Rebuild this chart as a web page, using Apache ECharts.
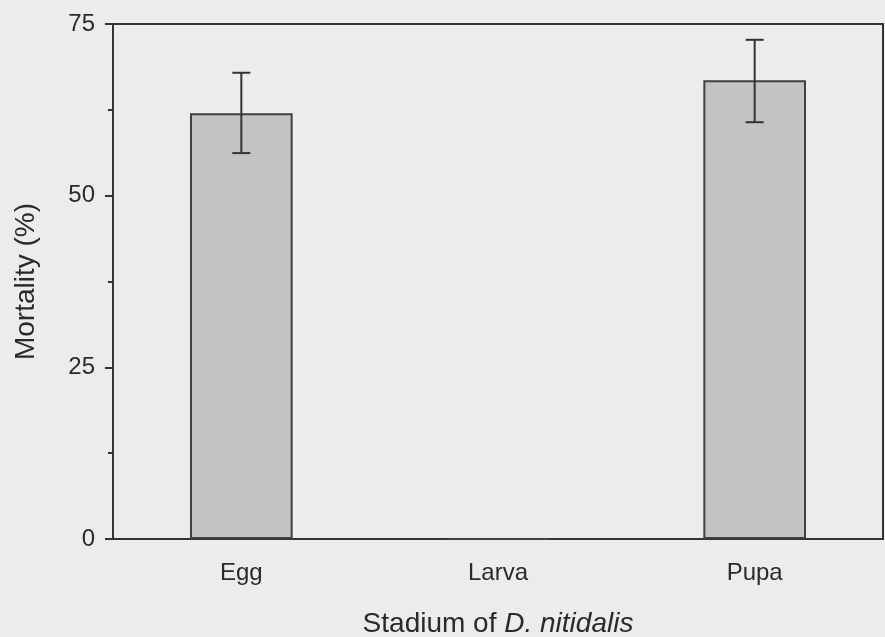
<!DOCTYPE html>
<html>
<head>
<meta charset="utf-8">
<script src="https://cdn.jsdelivr.net/npm/echarts@6/dist/echarts.min.js"></script>
<style>
html,body{margin:0;padding:0;background:#ececec;}
#c{width:885px;height:637px;}
</style>
</head>
<body>
<div id="c"></div>
<script>
const categories = ['Egg', 'Larva', 'Pupa'];
const mortality = [62.0, 0, 66.8];
const errLow = [56.2, null, 60.7];
const errHigh = [67.9, null, 72.7];
const yTicks = [0, 25, 50, 75];

const chart = echarts.init(document.getElementById('c'));
const errData = categories.map((c, i) => [i, errLow[i], errHigh[i]]).filter(d => d[1] !== null);

chart.setOption({
  backgroundColor: '#ececec',
  animation: false,
  grid: { left: 113, right: 2, top: 24, bottom: 98, show: true, borderColor: '#333', borderWidth: 2, backgroundColor: 'transparent', containLabel: false, outerBoundsMode: 'none' },
  xAxis: {
    type: 'category',
    data: categories,
    axisLine: { lineStyle: { color: '#333', width: 2 } },
    axisTick: { alignWithLabel: true, length: 7, lineStyle: { color: '#333', width: 2 } },
    axisLabel: { color: '#2a2a2a', fontFamily: 'Liberation Sans', fontSize: 24, margin: 22 },
    name: '{n|Stadium of }{i|D. nitidalis}',
    nameLocation: 'middle',
    nameGap: 71,
    nameTextStyle: {
      rich: {
        n: { fontFamily: 'Liberation Sans', fontSize: 28, color: '#2a2a2a' },
        i: { fontFamily: 'Liberation Sans', fontSize: 28, fontStyle: 'italic', color: '#2a2a2a' }
      }
    }
  },
  yAxis: {
    type: 'value',
    min: yTicks[0],
    max: yTicks[yTicks.length - 1],
    interval: 25,
    splitLine: { show: false },
    axisLine: { show: true, lineStyle: { color: '#333', width: 2 } },
    axisTick: { show: true, length: 8, lineStyle: { color: '#333', width: 2 } },
    minorTick: { show: true, splitNumber: 2, length: 5, lineStyle: { color: '#333', width: 2 } },
    axisLabel: { color: '#2a2a2a', fontFamily: 'Liberation Sans', fontSize: 24, margin: 18 },
    name: 'Mortality (%)',
    nameLocation: 'middle',
    nameGap: 73,
    nameTextStyle: { fontFamily: 'Liberation Sans', fontSize: 28, color: '#2a2a2a' }
  },
  series: [
    {
      type: 'bar',
      data: mortality,
      barWidth: '40%',
      itemStyle: { color: '#c3c3c3', borderColor: '#404040', borderWidth: 2 }
    },
    {
      type: 'custom',
      data: errData,
      z: 10,
      renderItem: function (params, api) {
        const x = api.value(0);
        const lo = api.coord([x, api.value(1)]);
        const hi = api.coord([x, api.value(2)]);
        const hw = 9;
        const style = { stroke: '#333', lineWidth: 2 };
        return {
          type: 'group',
          children: [
            { type: 'line', shape: { x1: hi[0], y1: hi[1], x2: lo[0], y2: lo[1] }, style },
            { type: 'line', shape: { x1: hi[0] - hw, y1: hi[1], x2: hi[0] + hw, y2: hi[1] }, style },
            { type: 'line', shape: { x1: lo[0] - hw, y1: lo[1], x2: lo[0] + hw, y2: lo[1] }, style }
          ]
        };
      }
    }
  ]
});
</script>
</body>
</html>
